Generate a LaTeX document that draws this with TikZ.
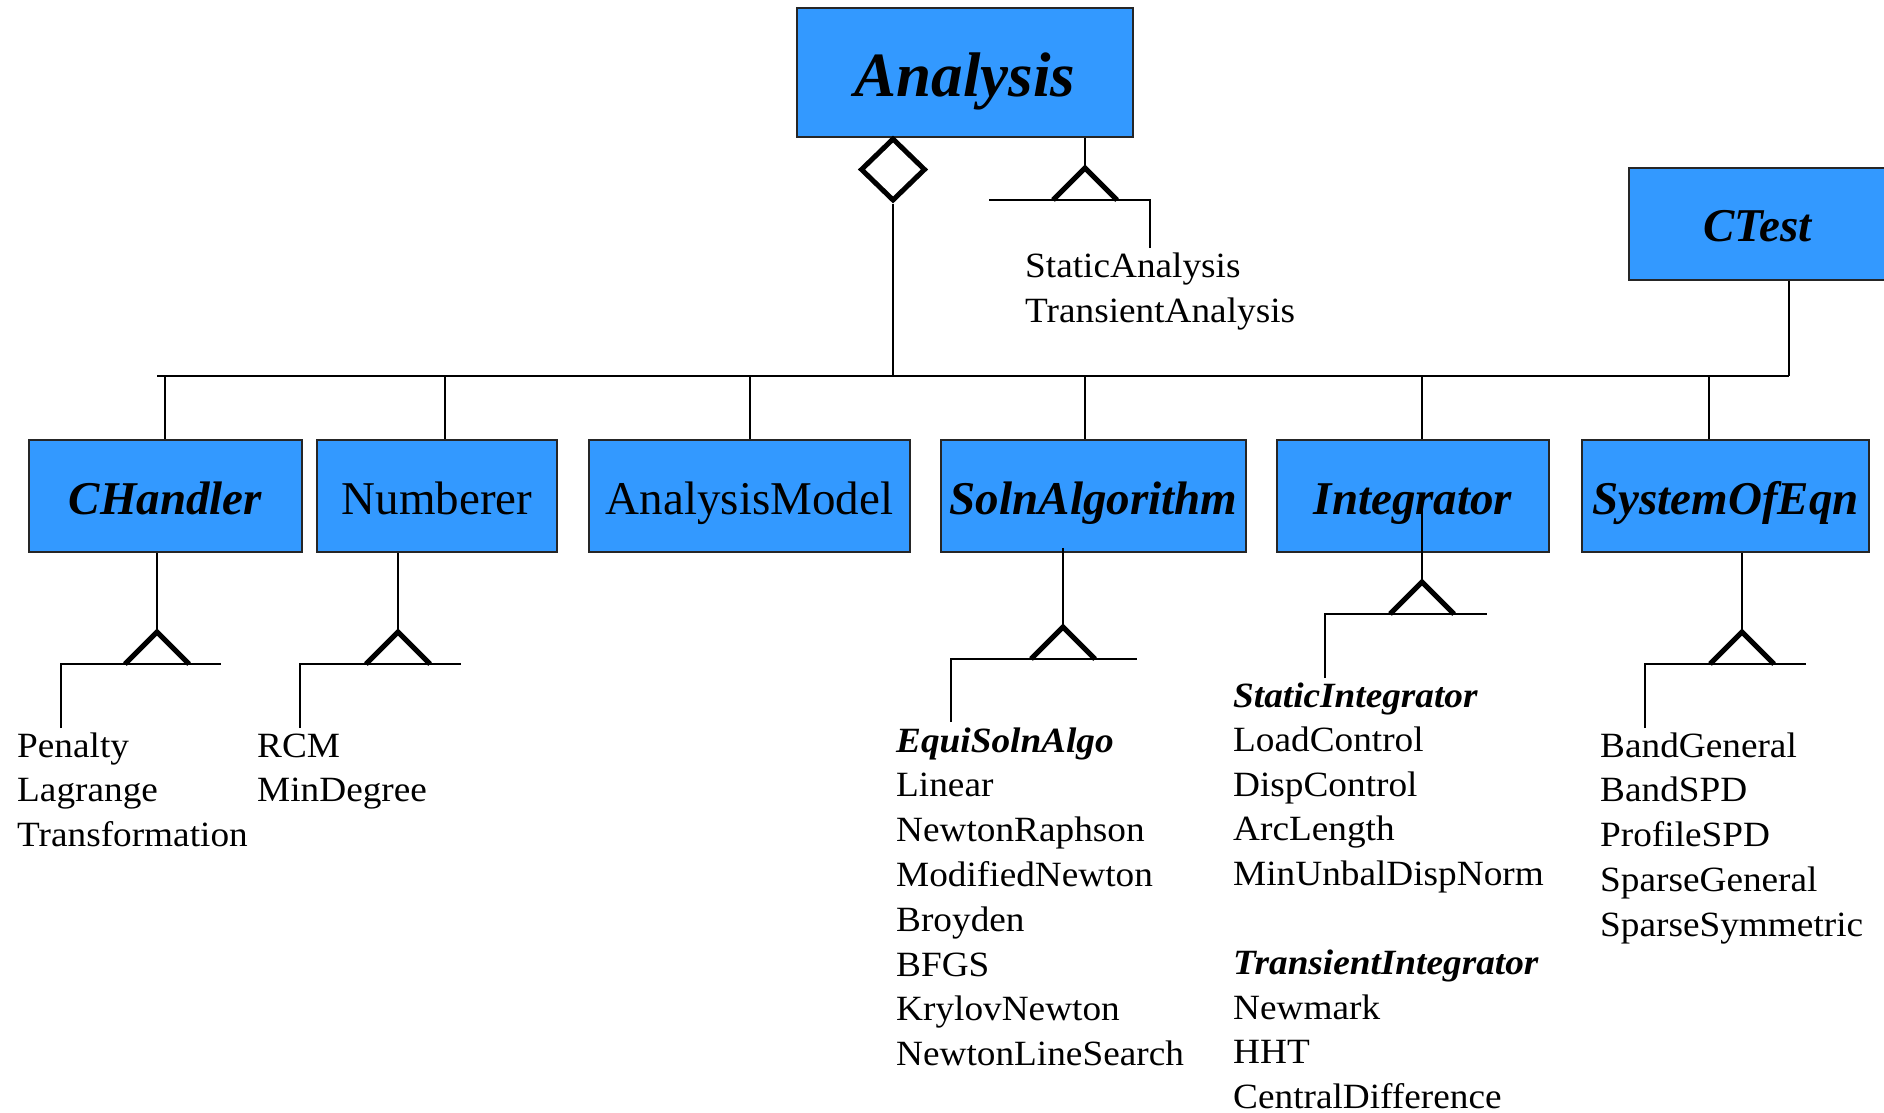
\documentclass[tikz,border=0pt]{standalone}
\usepackage{fontspec}
\setmainfont{Liberation Serif}
\newfontfamily\listfont[FakeStretch=1.05]{Liberation Serif}
\usetikzlibrary{shapes.geometric,calc}
\definecolor{classblue}{HTML}{3399FF}

\tikzset{
  cls/.style={draw=black!85, line width=1.6pt, fill=classblue, inner sep=0pt,
    minimum height=112pt, text height=36pt, text depth=0pt,
    font=\fontsize{47}{50}\selectfont},
  abscls/.style={cls, font=\fontsize{47}{50}\selectfont\bfseries\itshape},
  wire/.style={line width=2pt},
  genline/.style={line width=5pt, line join=miter},
  item/.style={anchor=base west, inner sep=0pt, font=\listfont\fontsize{35.5}{40}\selectfont},
  absitem/.style={item, font=\listfont\fontsize{35.5}{40}\selectfont\bfseries\itshape},
  agg/.style={diamond, draw, line width=5pt, fill=white, inner sep=0pt,
    minimum width=65pt, minimum height=63pt},
  gen/.pic={\draw[genline] (-32,0) -- (0,-32) -- (32,0);}
}

% inheritance fork: prefix, parent box, start offset inside box, apex x,
% base y, stem x, far end x, stem end y
\newcommand\genfork[8]{%
  \coordinate (#1-apex) at (#4,#5-32);
  \coordinate (#1-base) at (#4,#5);
  \coordinate (#1-end) at (#6,#8);
  \coordinate (#1-knee) at (#6,#5);
  \coordinate (#1-tip) at (#7,#5);
  \draw[wire] ($(#2.south -| #1-apex)+(0,-#3)$) -- (#1-apex);
  \pic at (#1-base) {gen};
  \draw[wire] (#1-end) -- (#1-knee) -- (#1-tip);
}

\begin{document}
\begin{tikzpicture}[x=1pt,y=-1pt]
\useasboundingbox (0,0) rectangle (1884,1113);

% class boxes
\node[abscls, minimum width=336pt, minimum height=129pt, text height=49pt,
  font=\fontsize{63}{66}\selectfont\bfseries\itshape] (analysis) at (965,72.5) {Analysis};
\node[abscls, minimum width=257pt, text height=34pt] (ctest) at (1757.5,224) {CTest};

\node[abscls, minimum width=273pt] (chandler) at (165.5,496) {CHandler};
\node[cls,    minimum width=240pt] (numberer) at (437,496) {Numberer};
\node[cls,    minimum width=321pt] (model)    at (749.5,496) {AnalysisModel};
\node[abscls, minimum width=305pt] (soln)     at (1093.5,496) {SolnAlgorithm};
\node[abscls, minimum width=272pt] (integ)    at (1413,496) {Integrator};
\node[abscls, minimum width=287pt] (soe)      at (1725.5,496) {SystemOfEqn};

% aggregation bus
\coordinate (busL) at (157,376);
\coordinate (busR) at (1789,376);
\node[agg] (agg) at (893,169.5) {};
\draw[wire] (busL) -- (busR);
\draw[wire] (agg.south) -- (agg.south |- busL);
\draw[wire] (ctest.south -| busR) -- (busR);
\foreach \nm/\x in {chandler/165, numberer/445, model/750, soln/1085, integ/1422, soe/1709}{
  \coordinate (drop-\nm) at (\x,376);
  \draw[wire] (drop-\nm) -- (drop-\nm |- \nm.north);
}

% inheritance forks
\genfork{fa}{analysis}{0}{1085}{200}{1150}{989}{248}
\genfork{fc}{chandler}{0}{157}{664}{61}{221}{728}
\genfork{fn}{numberer}{0}{398}{664}{300}{461}{728}
\genfork{fs}{soln}{5}{1063}{659}{951}{1137}{722}
\genfork{fi}{integ}{47}{1422}{614}{1325}{1487}{678}
\genfork{fe}{soe}{0}{1742}{664}{1645}{1806}{728}

% subclass lists
\node[item] (an-0) at (1025,277) {StaticAnalysis};
\node[item] (an-1) at (1025,322) {TransientAnalysis};

\foreach \t [count=\i from 0] in {Penalty,Lagrange,Transformation}
  \node[item] (ch-\i) at (17,757+44.8*\i) {\t};
\foreach \t [count=\i from 0] in {RCM,MinDegree}
  \node[item] (nu-\i) at (257,757+44.8*\i) {\t};

\node[absitem] (so-0) at (896,752) {EquiSolnAlgo};
\foreach \t [count=\i from 1] in {Linear,NewtonRaphson,ModifiedNewton,Broyden,BFGS,KrylovNewton,NewtonLineSearch}
  \node[item] (so-\i) at (896,752+44.8*\i) {\t};

\node[absitem] (in-0) at (1233,707) {StaticIntegrator};
\foreach \t [count=\i from 1] in {LoadControl,DispControl,ArcLength,MinUnbalDispNorm}
  \node[item] (in-\i) at (1233,707+44.6*\i) {\t};
\node[absitem] (in-6) at (1233,707+44.6*6) {TransientIntegrator};
\foreach \t [count=\i from 7] in {Newmark,HHT,CentralDifference}
  \node[item] (in-\i) at (1233,707+44.6*\i) {\t};

\foreach \t [count=\i from 0] in {BandGeneral,BandSPD,ProfileSPD,SparseGeneral,SparseSymmetric}
  \node[item] (se-\i) at (1600,757+44.8*\i) {\t};
\end{tikzpicture}
\end{document}
